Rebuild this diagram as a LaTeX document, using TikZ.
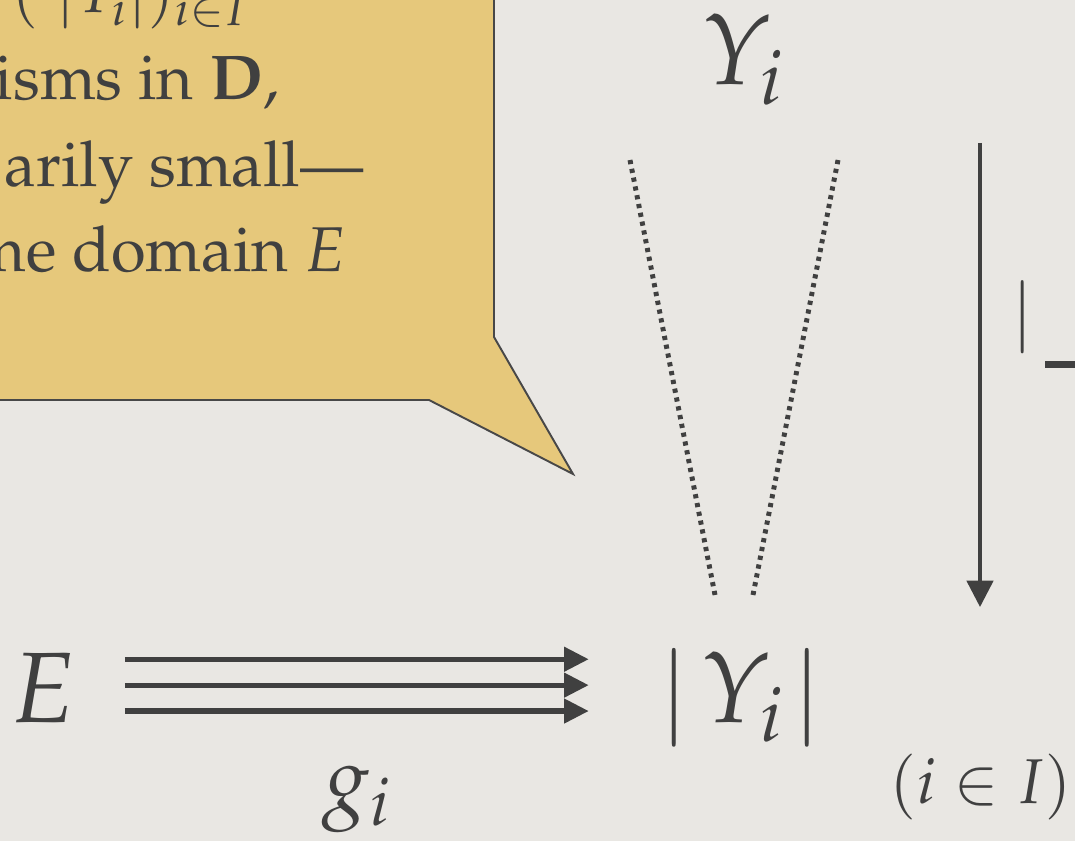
\documentclass[tikz,border=0pt]{standalone}
\usepackage[T1]{fontenc}
\usepackage{mathpazo}
\usepackage{amsmath, amssymb}
\definecolor{paperGray}{HTML}{E9E7E3}
\definecolor{inkGray}{HTML}{404040}
\definecolor{noteGold}{HTML}{E6C87B}
\definecolor{noteEdge}{HTML}{484848}
\usetikzlibrary{arrows.meta, positioning}
% bar of the absolute value, kept shorter than the letters
\newcommand{\shortbar}{{\fontsize{54}{60}\selectfont$\vert$}}

\begin{document}
\begin{tikzpicture}[
        x=0.02cm, y=-0.02cm,
        objnode/.style={inner sep=0pt, text=inkGray, font=\fontsize{57}{64}\selectfont},
        labnode/.style={inner sep=0pt, text=inkGray, font=\fontsize{50}{56}\selectfont},
        idxnode/.style={inner sep=0pt, text=inkGray, font=\fontsize{36}{42}\selectfont},
        noteline/.style={inner sep=0pt, anchor=base east, text=inkGray, font=\fontsize{36}{44}\selectfont},
        callout/.style={draw=noteEdge, line width=1.1pt, fill=noteGold, line join=miter},
        parto/.style={-{Triangle[length=14pt, width=13.5pt]}, line width=2.9pt, inkGray},
        functo/.style={-{Triangle[length=15pt, width=15pt]}, line width=2pt, inkGray},
        cone/.style={inkGray, line width=2.8pt, dash pattern=on 2.4pt off 2.7pt}
      ]
        \path[use as bounding box, fill=paperGray] (0,0) rectangle (1075,841);

        % speech bubble
        \draw[callout] (-20,-20) -- (494,-20) -- (494,337) -- (573,474) -- (429,400) -- (-20,400) -- cycle;
        \node[noteline] (n1) at (247,13) {$(\;\lvert Y_i\rvert)_{i\in I}$};
        \node[noteline] (n2) at (280,100) {isms in $\mathbf{D}$,};
        \node[noteline] (n3) at (364,187) {arily small---};
        \node[noteline] (n4) at (346,272) {me domain $E$};

        % objects
        \node[objnode, anchor=base] (Ytop) at (743,85) {$Y_i$};
        \node[objnode, anchor=base west] (Yabs) at (659,722) {\shortbar\hspace{7pt}$Y_i$\hspace{5pt}\shortbar};
        \node[objnode, anchor=base east] (E) at (76,722) {$E$};
        \node[labnode, anchor=base] (gi) at (357,808) {$g_i$};
        \node[idxnode, anchor=base] (idx) at (981,803) {$(i\in I)$};

        % the three maps g_i
        \foreach \dy in {63,37,11}
          \draw[parto, shorten <=27.8pt, shorten >=40pt]
            ([yshift=\dy*0.567pt]E.base east) -- ([yshift=\dy*0.567pt]Yabs.base west);

        % cone
        \coordinate (coneL1) at (630,160);
        \coordinate (coneL2) at (715,595);
        \coordinate (coneR1) at (838,160);
        \coordinate (coneR2) at (753,595);
        \draw[cone] (coneL1) -- (coneL2);
        \draw[cone] (coneR1) -- (coneR2);

        % forgetful functor
        \coordinate (funTop) at (980,143);
        \coordinate (funBot) at (980,607);
        \draw[functo] (funTop) -- (funBot);
        \node[noteline, font=\fontsize{40}{46}\selectfont, anchor=base west] (funLab) at (1011,336) {$\lvert\,\rule[-.45em]{.8em}{.09em}\,\rvert$};
      \end{tikzpicture}
\end{document}
